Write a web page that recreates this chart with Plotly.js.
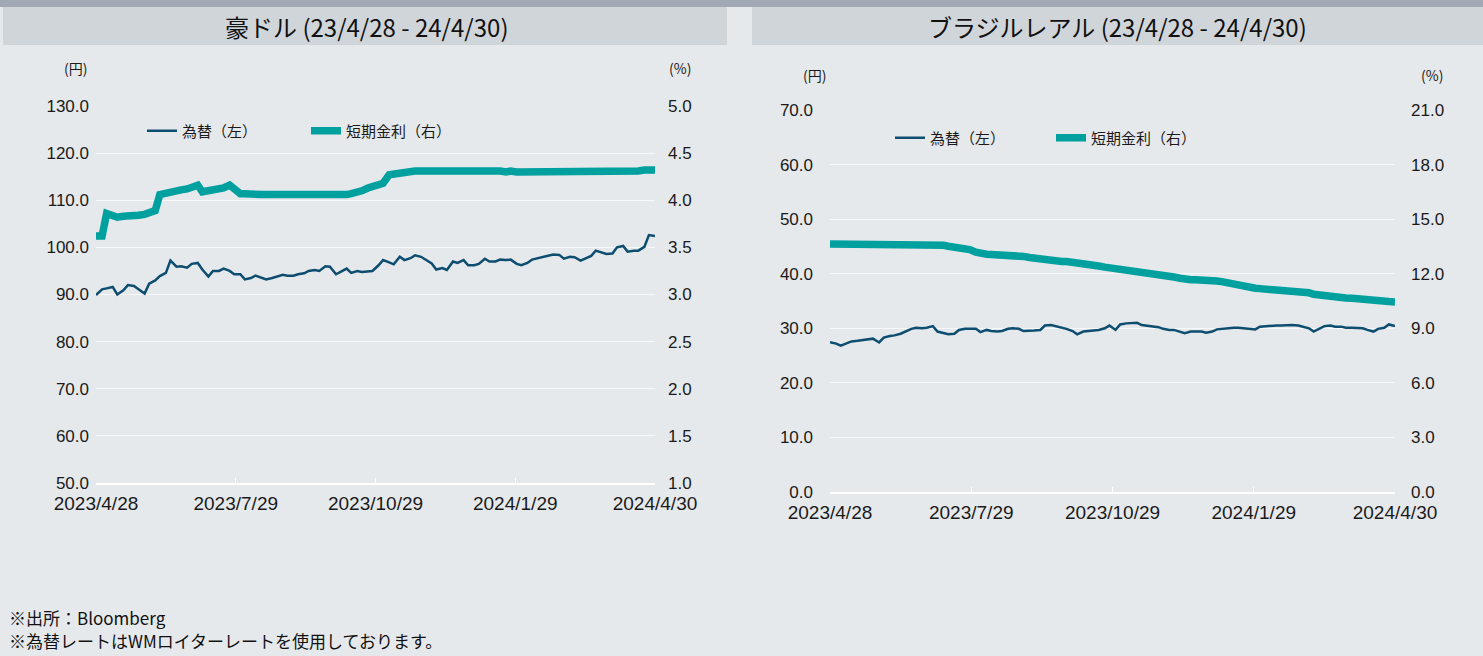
<!DOCTYPE html>
<html>
<head>
<meta charset="utf-8">
<script src="https://cdn.plot.ly/plotly-3.0.1.min.js"></script>
<style>
html,body{margin:0;padding:0;background:#e6e9ec;}
#chart{width:1483px;height:656px;}
</style>
</head>
<body>
<div id="chart"></div>
<script>
// ---- data ----
const dates = [
'2023-04-28','2023-05-02','2023-05-05','2023-05-09','2023-05-12','2023-05-16','2023-05-19','2023-05-23','2023-05-26','2023-05-30',
'2023-06-02','2023-06-06','2023-06-09','2023-06-13','2023-06-16','2023-06-20','2023-06-23','2023-06-27','2023-06-30','2023-07-04',
'2023-07-07','2023-07-11','2023-07-14','2023-07-18','2023-07-21','2023-07-25','2023-07-28','2023-08-01','2023-08-04','2023-08-08',
'2023-08-11','2023-08-15','2023-08-18','2023-08-22','2023-08-25','2023-08-29','2023-09-01','2023-09-05','2023-09-08','2023-09-12',
'2023-09-15','2023-09-19','2023-09-22','2023-09-26','2023-09-29','2023-10-03','2023-10-06','2023-10-10','2023-10-13','2023-10-17',
'2023-10-20','2023-10-24','2023-10-27','2023-10-31','2023-11-03','2023-11-07','2023-11-10','2023-11-14','2023-11-17','2023-11-21',
'2023-11-24','2023-11-28','2023-12-01','2023-12-05','2023-12-08','2023-12-12','2023-12-15','2023-12-19','2023-12-22','2023-12-26',
'2023-12-29','2024-01-02','2024-01-05','2024-01-09','2024-01-12','2024-01-16','2024-01-19','2024-01-23','2024-01-26','2024-01-30',
'2024-02-02','2024-02-06','2024-02-09','2024-02-13','2024-02-16','2024-02-20','2024-02-23','2024-02-27','2024-03-01','2024-03-05',
'2024-03-08','2024-03-12','2024-03-15','2024-03-19','2024-03-22','2024-03-26','2024-03-29','2024-04-02','2024-04-05','2024-04-09',
'2024-04-12','2024-04-16','2024-04-19','2024-04-23','2024-04-26','2024-04-30'
];

// 豪ドル 為替 (円, left axis)
const audFx = [
89.9,91.1,91.3,91.6,90.0,90.9,92.0,91.8,91.1,90.2,
92.3,93.0,93.9,94.6,97.2,95.9,96.0,95.7,96.5,96.7,
95.3,93.8,95.0,95.0,95.5,95.0,94.3,94.3,93.2,93.5,
94.0,93.6,93.2,93.5,93.8,94.2,94.0,94.0,94.3,94.5,
95.0,95.2,95.0,96.0,95.9,94.3,94.8,95.5,94.6,95.0,
94.8,95.0,95.0,96.2,97.3,96.8,96.4,98.0,97.3,97.7,
98.3,98.0,97.4,96.6,95.3,95.6,95.2,97.0,96.7,97.3,
96.2,96.2,96.5,97.6,97.0,97.0,97.4,97.3,97.4,96.5,
96.2,96.7,97.4,97.7,97.9,98.3,98.5,98.4,97.6,98.0,
97.9,97.2,97.7,98.2,99.3,98.9,98.6,98.7,100.0,100.3,
99.1,99.3,99.3,100.1,102.6,102.4
];

// 豪ドル 短期金利 (%, right axis)
const audRate = [
3.62,3.62,3.86,3.84,3.82,3.83,3.83,3.84,3.84,3.85,
3.87,3.89,4.06,4.08,4.09,4.11,4.11,4.12,4.14,4.16,
4.09,4.10,4.11,4.11,4.13,4.16,4.13,4.07,4.07,4.06,
4.06,4.06,4.06,4.06,4.06,4.06,4.06,4.06,4.06,4.06,
4.06,4.05,4.06,4.06,4.06,4.06,4.06,4.06,4.07,4.08,
4.10,4.13,4.15,4.17,4.18,4.27,4.28,4.29,4.30,4.30,
4.31,4.31,4.31,4.32,4.32,4.32,4.31,4.31,4.31,4.31,
4.32,4.31,4.31,4.31,4.31,4.31,4.31,4.30,4.31,4.30,
4.30,4.31,4.30,4.30,4.30,4.31,4.30,4.31,4.30,4.31,
4.30,4.30,4.31,4.30,4.30,4.31,4.31,4.31,4.31,4.31,
4.31,4.31,4.31,4.32,4.32,4.32
];

// ブラジルレアル 為替 (円, left axis)
const brlFx = [
27.45,27.2,26.8,27.3,27.6,27.7,27.8,28.0,28.1,27.4,
28.3,28.6,28.7,29.0,29.4,29.9,30.1,30.0,30.1,30.4,
29.4,29.1,28.9,29.0,29.7,29.9,29.9,29.9,29.3,29.7,
29.5,29.4,29.5,29.9,30.0,29.9,29.5,29.5,29.6,29.7,
30.5,30.6,30.4,30.2,29.9,29.5,28.9,29.4,29.5,29.6,
29.7,30.0,30.5,29.7,30.7,30.9,31.0,31.0,30.6,30.5,
30.4,30.2,29.9,29.7,29.7,29.4,29.1,29.4,29.4,29.4,
29.2,29.4,29.8,29.9,30.1,30.1,30.1,30.0,29.9,29.8,
30.3,30.4,30.4,30.5,30.5,30.6,30.6,30.5,30.3,30.0,
29.4,29.9,30.4,30.5,30.3,30.3,30.1,30.1,30.1,30.0,
29.7,29.4,29.9,30.1,30.7,30.4
];

// ブラジルレアル 短期金利 (%, right axis)
const brlRate = [
13.64,13.64,13.64,13.64,13.64,13.64,13.64,13.64,13.64,13.64,
13.64,13.64,13.64,13.64,13.64,13.64,13.64,13.64,13.64,13.62,
13.60,13.56,13.51,13.47,13.45,13.40,13.33,13.18,13.09,13.07,
13.05,13.05,13.04,13.02,13.00,12.98,12.95,12.89,12.85,12.80,
12.75,12.69,12.67,12.67,12.67,12.64,12.60,12.55,12.49,12.45,
12.42,12.36,12.33,12.27,12.22,12.20,12.18,12.16,12.13,12.09,
12.05,12.02,11.96,11.89,11.82,11.75,11.67,11.67,11.67,11.67,
11.67,11.65,11.60,11.55,11.49,11.42,11.36,11.29,11.24,11.20,
11.18,11.16,11.15,11.15,11.13,11.11,11.09,11.07,11.00,10.95,
10.87,10.82,10.76,10.71,10.69,10.69,10.67,10.65,10.64,10.62,
10.58,10.56,10.55,10.51,10.47,10.45
];

const seriesNames = ['為替（左）', '短期金利（右）'];
const tickDates = ['2023-04-28','2023-07-29','2023-10-29','2024-01-29','2024-04-30'];
const tickLabels = ['2023/4/28','2023/7/29','2023/10/29','2024/1/29','2024/4/30'];
const titles = ['豪ドル (23/4/28 - 24/4/30)', 'ブラジルレアル (23/4/28 - 24/4/30)'];
const notes = ['※出所：Bloomberg', '※為替レートはWMロイターレートを使用しております。'];

// ---- styling ----
const W = 1483, H = 656;
const px = v => v / W;
const py = v => 1 - v / H;
const FX_COLOR = '#0d4d70';
const RATE_COLOR = '#00a09f';
const JP = '"Noto Sans CJK JP", "Noto Sans", sans-serif';
const NUM = '"Liberation Sans Narrow", "Liberation Sans", Arial, sans-serif';
const TXT = '#1a1a1a';

const traces = [
  {x: dates, y: audFx, name: seriesNames[0], type: 'scatter', mode: 'lines', xaxis: 'x', yaxis: 'y',
   line: {color: FX_COLOR, width: 2.5}, legend: 'legend'},
  {x: dates, y: audRate, name: seriesNames[1], type: 'scatter', mode: 'lines', xaxis: 'x', yaxis: 'y2',
   line: {color: RATE_COLOR, width: 7.5}, legend: 'legend'},
  {x: dates, y: brlFx, name: seriesNames[0], type: 'scatter', mode: 'lines', xaxis: 'x2', yaxis: 'y3',
   line: {color: FX_COLOR, width: 2.5}, legend: 'legend2'},
  {x: dates, y: brlRate, name: seriesNames[1], type: 'scatter', mode: 'lines', xaxis: 'x2', yaxis: 'y4',
   line: {color: RATE_COLOR, width: 7.5}, legend: 'legend2'}
];

function xAxis(domain, anchor) {
  return {
    domain: domain, anchor: anchor, type: 'date',
    range: ['2023-04-28', '2024-04-30'],
    tickmode: 'array', tickvals: tickDates, ticktext: tickLabels,
    ticks: 'inside', ticklen: 5, tickwidth: 1, tickcolor: '#ffffff',
    showline: true, linecolor: '#ffffff', linewidth: 2,
    showgrid: false, zeroline: false, fixedrange: true,
    tickfont: {family: NUM, size: 19, color: TXT},
    ticklabelstandoff: 2
  };
}
function yLeft(domain, anchor, range, dtick, standoff) {
  return {
    domain: domain, anchor: anchor, range: range, dtick: dtick, tick0: range[0],
    tickformat: '.1f', showgrid: true, gridcolor: '#f7f8f9', gridwidth: 1,
    zeroline: false, showline: false, ticks: '', fixedrange: true,
    tickfont: {family: NUM, size: 17, color: TXT}, ticklabelstandoff: standoff
  };
}
function yRight(overlay, anchor, range, dtick, standoff) {
  return {
    overlaying: overlay, anchor: anchor, side: 'right', range: range, dtick: dtick, tick0: range[0],
    tickformat: '.1f', showgrid: false, zeroline: false, showline: false, ticks: '', fixedrange: true,
    tickfont: {family: NUM, size: 17, color: TXT}, ticklabelstandoff: standoff
  };
}

const legendBase = {
  orientation: 'h', xanchor: 'left', yanchor: 'middle',
  bgcolor: 'rgba(0,0,0,0)', borderwidth: 0,
  font: {family: JP, size: 15, color: TXT},
  entrywidthmode: 'pixels', itemwidth: 30, traceorder: 'normal'
};

const layout = {
  width: W, height: H,
  margin: {l: 0, r: 0, t: 0, b: 0, pad: 0},
  paper_bgcolor: '#e6e9ec', plot_bgcolor: 'rgba(0,0,0,0)',
  showlegend: true,
  xaxis: xAxis([px(96), px(655)], 'y'),
  yaxis: yLeft([py(483), py(106)], 'x', [50, 130], 10, 6),
  yaxis2: yRight('y', 'x', [1, 5], 0.5, 12),
  xaxis2: xAxis([px(830), px(1395)], 'y3'),
  yaxis3: yLeft([py(492), py(110)], 'x2', [0, 70], 10, 16),
  yaxis4: yRight('y3', 'x2', [0, 21], 3, 15),
  legend: Object.assign({}, legendBase, {x: px(142), y: py(131), entrywidth: 119}),
  legend2: Object.assign({}, legendBase, {x: px(890), y: py(138), entrywidth: 116}),
  shapes: [
    {type: 'rect', xref: 'paper', yref: 'paper', x0: 0, x1: 1, y0: py(7), y1: 1,
     fillcolor: '#a1aab4', line: {width: 0}, layer: 'below'},
    {type: 'rect', xref: 'paper', yref: 'paper', x0: px(3), x1: px(727), y0: py(45), y1: py(7),
     fillcolor: '#d0d5da', line: {width: 0}, layer: 'below'},
    {type: 'rect', xref: 'paper', yref: 'paper', x0: px(752), x1: 1, y0: py(45), y1: py(7),
     fillcolor: '#d0d5da', line: {width: 0}, layer: 'below'}
  ],
  annotations: [
    {text: titles[0], xref: 'paper', yref: 'paper', x: px(367), y: py(27), xanchor: 'center', yanchor: 'middle',
     showarrow: false, font: {family: JP, size: 24, color: '#111'}},
    {text: titles[1], xref: 'paper', yref: 'paper', x: px(1117), y: py(27), xanchor: 'center', yanchor: 'middle',
     showarrow: false, font: {family: JP, size: 24, color: '#111'}},
    {text: '(円)', xref: 'paper', yref: 'paper', x: px(75), y: py(68), xanchor: 'center', yanchor: 'middle',
     showarrow: false, font: {family: JP, size: 14, color: TXT}},
    {text: '(%)', xref: 'paper', yref: 'paper', x: px(680), y: py(68), xanchor: 'center', yanchor: 'middle',
     showarrow: false, font: {family: JP, size: 14, color: TXT}},
    {text: '(円)', xref: 'paper', yref: 'paper', x: px(814), y: py(75), xanchor: 'center', yanchor: 'middle',
     showarrow: false, font: {family: JP, size: 14, color: TXT}},
    {text: '(%)', xref: 'paper', yref: 'paper', x: px(1432), y: py(75), xanchor: 'center', yanchor: 'middle',
     showarrow: false, font: {family: JP, size: 14, color: TXT}},
    {text: notes[0], xref: 'paper', yref: 'paper', x: px(7), y: py(617), xanchor: 'left', yanchor: 'middle',
     showarrow: false, font: {family: JP, size: 17, color: '#111'}},
    {text: notes[1], xref: 'paper', yref: 'paper', x: px(7), y: py(640), xanchor: 'left', yanchor: 'middle',
     showarrow: false, font: {family: JP, size: 17, color: '#111'}}
  ]
};

Plotly.newPlot('chart', traces, layout, {staticPlot: true, displayModeBar: false});
</script>
</body>
</html>
